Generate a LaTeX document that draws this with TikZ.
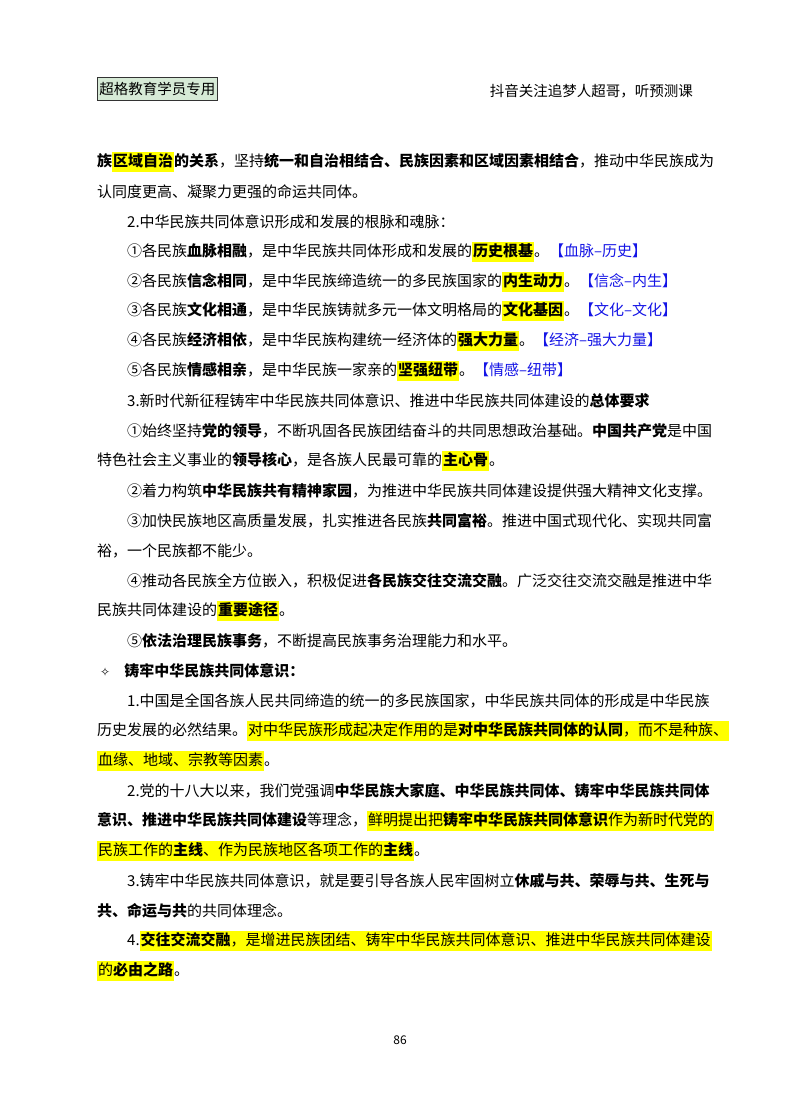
\documentclass[tikz,border=0pt]{standalone}
\usepackage{fontspec}
\setmainfont{Noto Sans CJK SC}
\newfontfamily\djv{DejaVu Sans}
\definecolor{hly}{RGB}{255,255,0}
\definecolor{tagblue}{RGB}{20,20,230}
\definecolor{boxg}{RGB}{214,234,214}
\newcommand{\hl}[1]{{\setlength{\fboxsep}{1pt}\colorbox{hly}{\strut #1}}}
\newcommand{\tg}[1]{\textcolor{tagblue}{#1}}
\begin{document}
\begin{tikzpicture}[x=1pt,y=-1pt,
  ln/.style={anchor=west,inner sep=0pt,font=\fontsize{15}{15}\selectfont},
  hd/.style={anchor=west,inner sep=0pt,font=\fontsize{14.5}{15}\selectfont}]
\useasboundingbox[fill=white] (0,0) rectangle (800,1114);
\node[hd,draw=black!80,fill=boxg,inner sep=2pt,minimum height=23pt,line width=0.8pt] (hb) at (97,89) {超格教育学员专用};
\node[hd,anchor=east] (hr) at (693,91) {抖音关注追梦人超哥，听预测课};
\node[ln] (l1) at (97,162) {\textbf{族\hl{区域自治}的关系}，坚持\textbf{统一和自治相结合、民族因素和区域因素相结合}，推动中华民族成为};
\node[ln] (l2) at (97,192) {认同度更高、凝聚力更强的命运共同体。};
\node[ln] (l3) at (127,222) {2.中华民族共同体意识形成和发展的根脉和魂脉：};
\node[ln] (l4) at (127,252) {①各民族\textbf{血脉相融}，是中华民族共同体形成和发展的\hl{\textbf{历史根基}}。\tg{【血脉–历史】}};
\node[ln] (l5) at (127,282) {②各民族\textbf{信念相同}，是中华民族缔造统一的多民族国家的\hl{\textbf{内生动力}}。\tg{【信念–内生】}};
\node[ln] (l6) at (127,311) {③各民族\textbf{文化相通}，是中华民族铸就多元一体文明格局的\hl{\textbf{文化基因}}。\tg{【文化–文化】}};
\node[ln] (l7) at (127,341) {④各民族\textbf{经济相依}，是中华民族构建统一经济体的\hl{\textbf{强大力量}}。\tg{【经济–强大力量】}};
\node[ln] (l8) at (127,371) {⑤各民族\textbf{情感相亲}，是中华民族一家亲的\hl{\textbf{坚强纽带}}。\tg{【情感–纽带】}};
\node[ln] (l9) at (127,401) {3.新时代新征程铸牢中华民族共同体意识、推进中华民族共同体建设的\textbf{总体要求}};
\node[ln] (l10) at (127,431) {①始终坚持\textbf{党的领导}，不断巩固各民族团结奋斗的共同思想政治基础。\textbf{中国共产党}是中国};
\node[ln] (l11) at (97,461) {特色社会主义事业的\textbf{领导核心}，是各族人民最可靠的\hl{\textbf{主心骨}}。};
\node[ln] (l12) at (127,491) {②着力构筑\textbf{中华民族共有精神家园}，为推进中华民族共同体建设提供强大精神文化支撑。};
\node[ln] (l13) at (127,521) {③加快民族地区高质量发展，扎实推进各民族\textbf{共同富裕}。推进中国式现代化、实现共同富};
\node[ln] (l14) at (97,551) {裕，一个民族都不能少。};
\node[ln] (l15) at (127,581) {④推动各民族全方位嵌入，积极促进\textbf{各民族交往交流交融}。广泛交往交流交融是推进中华};
\node[ln] (l16) at (97,611) {民族共同体建设的\hl{\textbf{重要途径}}。};
\node[ln] (l17) at (127,641) {⑤\textbf{依法治理民族事务}，不断提高民族事务治理能力和水平。};
\node[ln] (l18) at (100,671) {{\djv\fontsize{12}{12}\selectfont ✧}\hspace{14pt}\textbf{铸牢中华民族共同体意识：}};
\node[ln] (l19) at (127,701) {1.中国是全国各族人民共同缔造的统一的多民族国家，中华民族共同体的形成是中华民族};
\node[ln] (l20) at (97,731) {历史发展的必然结果。\hl{对中华民族形成起决定作用的是\textbf{对中华民族共同体的认同}，而不是种族、}};
\node[ln] (l21) at (97,761) {\hl{血缘、地域、宗教等因素}。};
\node[ln] (l22) at (127,791) {2.党的十八大以来，我们党强调\textbf{中华民族大家庭、中华民族共同体、铸牢中华民族共同体}};
\node[ln] (l23) at (97,821) {\textbf{意识、推进中华民族共同体建设}等理念，\hl{鲜明提出把\textbf{铸牢中华民族共同体意识}作为新时代党的}};
\node[ln] (l24) at (97,851) {\hl{民族工作的\textbf{主线}、作为民族地区各项工作的\textbf{主线}}。};
\node[ln] (l25) at (127,881) {3.铸牢中华民族共同体意识，就是要引导各族人民牢固树立\textbf{休戚与共、荣辱与共、生死与}};
\node[ln] (l26) at (97,911) {\textbf{共、命运与共}的共同体理念。};
\node[ln] (l27) at (127,941) {4.\hl{\textbf{交往交流交融}，是增进民族团结、铸牢中华民族共同体意识、推进中华民族共同体建设}};
\node[ln] (l28) at (97,971) {\hl{的\textbf{必由之路}}。};
\node[anchor=center,inner sep=0pt,font=\fontsize{12}{12}\selectfont] (pn) at (400,1040) {86};
\end{tikzpicture}
\end{document}
